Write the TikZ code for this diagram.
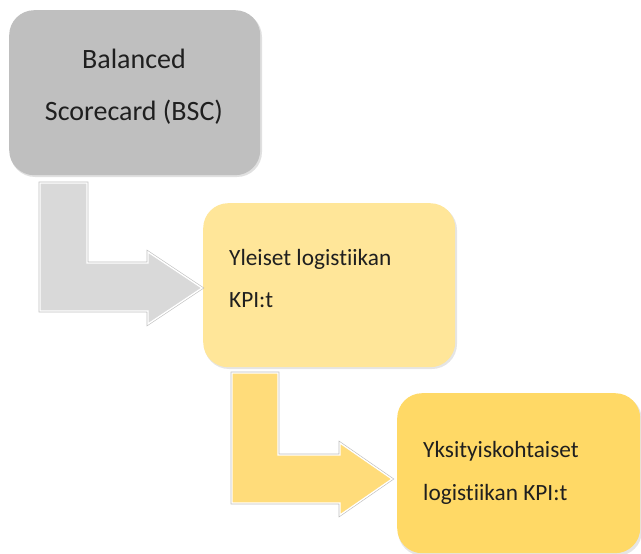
\documentclass[tikz,border=0pt]{standalone}
\usepackage{fontspec}
\setmainfont[RawFeature={-liga;-dlig}]{Carlito}
\definecolor{boxgray}{HTML}{BFBFBF}
\definecolor{arrowgray}{HTML}{D9D9D9}
\definecolor{boxyellow}{HTML}{FFE699}
\definecolor{arrowyellow}{HTML}{FFDC7A}
\definecolor{boxgold}{HTML}{FFD966}
\definecolor{txt}{HTML}{1F1F1F}
\begin{document}
\begin{tikzpicture}[x=1pt,y=-1pt,
  card/.style={rounded corners=25pt, inner sep=0pt, anchor=north west},
  shadowline/.style={draw=black!25, line width=2.6pt, line join=miter},
  arrowfill/.style={draw=white, line width=1.3pt, line join=miter},
  bigtxt/.style={font=\fontsize{28}{32}\selectfont, text=txt, anchor=base, inner sep=0pt},
  smalltxt/.style={font=\fontsize{23.3}{28}\selectfont, text=txt, anchor=base west, inner sep=0pt}]
\useasboundingbox (0,0) rectangle (641,554);
% box shadows
\fill[black!12, rounded corners=25pt] (10,12) rectangle (262,177);
\fill[black!10, rounded corners=25pt] (204,205) rectangle (457,369);
\fill[black!10, rounded corners=25pt] (398,395) rectangle (642,556);
% boxes
\node[card, fill=boxgray, minimum width=251pt, minimum height=165pt] (bsc) at (9,10) {};
\node[card, fill=boxyellow, minimum width=252pt, minimum height=164pt] (yleiset) at (203,203) {};
\node[card, fill=boxgold, minimum width=243pt, minimum height=160pt] (yksi) at (397,393) {};
% arrows
\path[shadowline] (40,183) -- (87,183) -- (87,263) -- (148,263) -- (148,252) -- (202,288) -- (148,324) -- (148,311) -- (40,311) -- cycle;
\path[arrowfill, fill=arrowgray] (40,183) -- (87,183) -- (87,263) -- (148,263) -- (148,252) -- (202,288) -- (148,324) -- (148,311) -- (40,311) -- cycle;
\path[shadowline] (232,373) -- (278,373) -- (278,455) -- (340,455) -- (340,443) -- (392,479) -- (340,515) -- (340,503) -- (232,503) -- cycle;
\path[arrowfill, fill=arrowyellow] (232,373) -- (278,373) -- (278,455) -- (340,455) -- (340,443) -- (392,479) -- (340,515) -- (340,503) -- (232,503) -- cycle;
% texts
\node[bigtxt] (t1a) at (134,68) {Balanced};
\node[bigtxt] (t1b) at (134,120) {Scorecard (BSC)};
\node[smalltxt] (t2a) at (229,265) {Yleiset logistiikan};
\node[smalltxt] (t2b) at (229,307) {KPI:t};
\node[smalltxt] (t3a) at (423,457) {Yksityiskohtaiset};
\node[smalltxt] (t3b) at (423,500) {logistiikan KPI:t};
\end{tikzpicture}
\end{document}
